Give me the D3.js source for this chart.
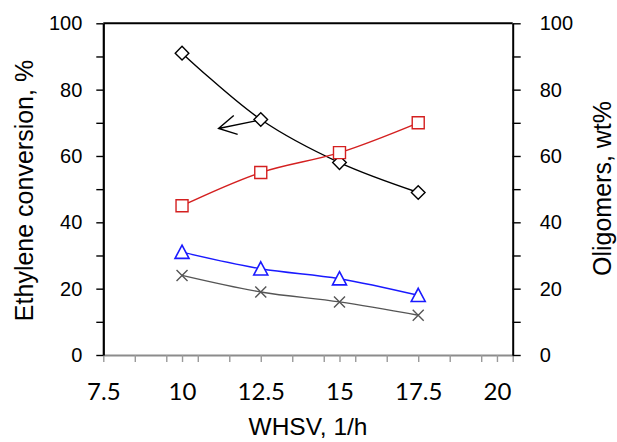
<!DOCTYPE html>
<html>
<head>
<meta charset="utf-8">
<script src="https://cdn.jsdelivr.net/npm/d3@7"></script>
<style>
  body { margin: 0; background: #fff; }
  svg { display: block; }
</style>
</head>
<body>
<svg id="chart" width="617" height="442"></svg>
<script>
// WHSV values (1/h)
const whsv = [10, 12.5, 15, 17.5];
// series
const conversion = [91, 71, 58, 49];       // diamonds, left axis
const seriesSquare = [45, 55, 61, 70];     // red squares
const seriesTriangle = [31, 26, 23, 18];   // blue triangles
const seriesCross = [24, 19, 16, 12];      // grey crosses

const xLabels = [7.5, 10, 12.5, 15, 17.5, 20];
const xMinor = d3.range(7.5, 21, 1);       // 7.5, 8.5 ... 20.5
const yTicks = d3.range(0, 101, 10);
const yLabels = [0, 20, 40, 60, 80, 100];

// arrow pointing at the left axis (data units)
const arrowFrom = [12.34, 70.6];
const arrowTo = [11.16, 68.3];

const svg = d3.select('#chart');
const plotLeft = 103.3, plotRight = 512.7, plotTop = 23.3, plotBottom = 355;

const x = d3.scaleLinear().domain([7.5, 20.5]).range([plotLeft, plotRight]);
const y = d3.scaleLinear().domain([0, 100]).range([plotBottom, plotTop]);

// top border
svg.append('line')
  .attr('x1', plotLeft).attr('x2', plotRight).attr('y1', plotTop).attr('y2', plotTop)
  .attr('stroke', '#000').attr('stroke-width', 2);

// x axis (grey)
const xTickValues = Array.from(new Set(xMinor.concat(xLabels))).sort((a, b) => a - b);
const xAxis = svg.append('g')
  .attr('transform', `translate(0,${plotBottom})`)
  .call(d3.axisBottom(x)
    .tickValues(xTickValues)
    .tickSize(7)
    .tickSizeOuter(0)
    .tickFormat(d => xLabels.includes(d) ? d3.format('')(d) : ''));
xAxis.select('.domain').attr('stroke', '#8c8c8c').attr('stroke-width', 2);
xAxis.selectAll('.tick line').attr('stroke', '#9a9a9a').attr('stroke-width', 1.4);
xAxis.selectAll('.tick text')
  .attr('y', 45).attr('dy', 0)
  .attr('fill', '#000')
  .style('font-family', 'Lato, "Open Sans", sans-serif')
  .style('font-size', '24px');

// left axis
const yAxisL = svg.append('g')
  .attr('transform', `translate(${plotLeft},0)`)
  .call(d3.axisLeft(y)
    .tickValues(yTicks)
    .tickSize(7)
    .tickSizeOuter(0)
    .tickPadding(14)
    .tickFormat(d => yLabels.includes(d) ? d : ''));
yAxisL.select('.domain').attr('stroke', '#000').attr('stroke-width', 2.2);
yAxisL.selectAll('.tick line').attr('stroke', '#000').attr('stroke-width', 1.4);
yAxisL.selectAll('.tick text')
  .attr('fill', '#000')
  .style('font-family', '"Liberation Sans", Arial, sans-serif')
  .style('font-size', '20px');

// right axis
const yAxisR = svg.append('g')
  .attr('transform', `translate(${plotRight},0)`)
  .call(d3.axisRight(y)
    .tickValues(yTicks)
    .tickSize(8)
    .tickSizeOuter(0)
    .tickPadding(19)
    .tickFormat(d => yLabels.includes(d) ? d : ''));
yAxisR.select('.domain').attr('stroke', '#000').attr('stroke-width', 2);
yAxisR.selectAll('.tick line').attr('stroke', '#000').attr('stroke-width', 1.4);
yAxisR.selectAll('.tick text')
  .attr('fill', '#000')
  .style('font-family', '"Liberation Sans", Arial, sans-serif')
  .style('font-size', '20px');

// titles
const titleFont = '"Liberation Sans", Arial, sans-serif';
svg.append('text')
  .attr('transform', 'translate(33,190.5) rotate(-90)')
  .attr('text-anchor', 'middle')
  .style('font-family', titleFont).style('font-size', '25px')
  .text('Ethylene conversion, %');
svg.append('text')
  .attr('transform', 'translate(611,188.5) rotate(-90)')
  .attr('text-anchor', 'middle')
  .style('font-family', titleFont).style('font-size', '25px')
  .text('Oligomers, wt%');
svg.append('text')
  .attr('x', 308).attr('y', 435)
  .attr('text-anchor', 'middle')
  .style('font-family', titleFont).style('font-size', '24.5px')
  .text('WHSV, 1/h');

// lines
const line = d3.line()
  .x(d => x(d[0])).y(d => y(d[1]))
  .curve(d3.curveCatmullRom.alpha(0.5));

const series = [
  { values: conversion, color: '#000000', marker: 'diamond' },
  { values: seriesSquare, color: '#d42020', marker: 'square' },
  { values: seriesTriangle, color: '#1a1aff', marker: 'triangle' },
  { values: seriesCross, color: '#555555', marker: 'cross' }
];

series.forEach(s => {
  const pts = whsv.map((w, i) => [w, s.values[i]]);
  svg.append('path')
    .datum(pts)
    .attr('d', line)
    .attr('fill', 'none')
    .attr('stroke', s.color)
    .attr('stroke-width', 1.4);
});

const markerPath = {
  diamond: 'M0,-6.8L6.8,0L0,6.8L-6.8,0Z',
  square: 'M-6,-6H6V6H-6Z',
  triangle: 'M0,-7L7,6.2H-7Z',
  cross: 'M-5.5,-5.5L5.5,5.5M-5.5,5.5L5.5,-5.5'
};

series.forEach(s => {
  svg.append('g').selectAll('path')
    .data(whsv.map((w, i) => [w, s.values[i]]))
    .join('path')
      .attr('transform', d => `translate(${x(d[0])},${y(d[1])})`)
      .attr('d', markerPath[s.marker])
      .attr('fill', s.marker === 'cross' ? 'none' : '#fff')
      .attr('stroke', s.color)
      .attr('stroke-width', s.marker === 'triangle' ? 1.6 : 1.4);
});

// arrow
const ax0 = x(arrowFrom[0]), ay0 = y(arrowFrom[1]);
const ax1 = x(arrowTo[0]), ay1 = y(arrowTo[1]);
const ang = Math.atan2(ay0 - ay1, ax0 - ax1);
const wing = 20, spread = 29 * Math.PI / 180;
const arrowPath = d3.path();
arrowPath.moveTo(ax0, ay0);
arrowPath.lineTo(ax1, ay1);
arrowPath.moveTo(ax1 + wing * Math.cos(ang - spread), ay1 + wing * Math.sin(ang - spread));
arrowPath.lineTo(ax1, ay1);
arrowPath.lineTo(ax1 + wing * Math.cos(ang + spread), ay1 + wing * Math.sin(ang + spread));
svg.append('path')
  .attr('d', arrowPath.toString())
  .attr('fill', 'none')
  .attr('stroke', '#000')
  .attr('stroke-width', 1.4);
</script>
</body>
</html>
